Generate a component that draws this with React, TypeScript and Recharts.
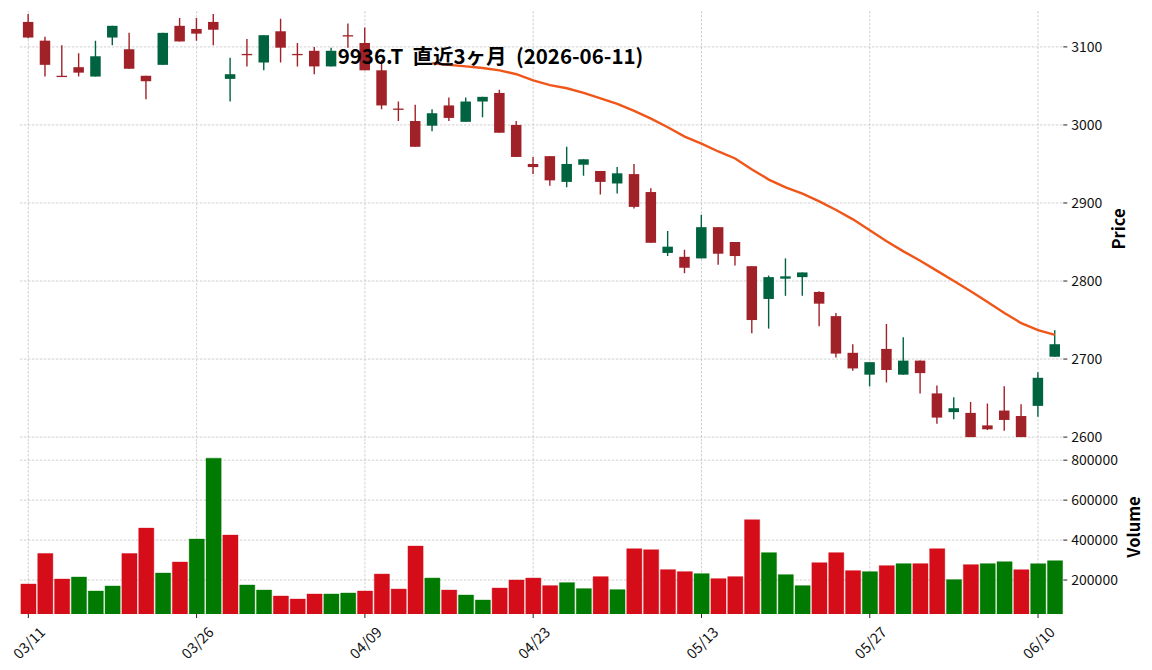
import { Bar, BarChart, CartesianGrid, Cell, ComposedChart, Line, XAxis, YAxis } from 'recharts';

// 9936.T daily candles, last 3 months
const dates = [
  '03/11', '03/12', '03/13', '03/16', '03/17', '03/18', '03/19', '03/23', '03/24', '03/25',
  '03/26', '03/27', '03/30', '03/31', '04/01', '04/02', '04/03', '04/06', '04/07', '04/08',
  '04/09', '04/10', '04/13', '04/14', '04/15', '04/16', '04/17', '04/20', '04/21', '04/22',
  '04/23', '04/24', '04/27', '04/28', '04/30', '05/01', '05/07', '05/08', '05/11', '05/12',
  '05/13', '05/14', '05/15', '05/18', '05/19', '05/20', '05/21', '05/22', '05/25', '05/26',
  '05/27', '05/28', '05/29', '06/01', '06/02', '06/03', '06/04', '06/05', '06/08', '06/09',
  '06/10', '06/11',
];
const opens = [
  3132, 3108, 3063, 3074, 3062, 3112, 3097, 3063, 3077, 3127,
  3123, 3132, 3059, 3091, 3080, 3120, 3091, 3095, 3075, 3115,
  3105, 3070, 3021, 3005, 2999, 3025, 3004, 3030, 3041, 3000,
  2950, 2960, 2927, 2949, 2941, 2925, 2937, 2914, 2836, 2831,
  2829, 2869, 2850, 2819, 2777, 2803, 2805, 2786, 2755, 2708,
  2680, 2713, 2680, 2698, 2656, 2632, 2631, 2615, 2634, 2627,
  2640, 2703,
];
const highs = [
  3142, 3113, 3102, 3092, 3108, 3127, 3118, 3063, 3118, 3137,
  3137, 3142, 3086, 3110, 3115, 3136, 3105, 3100, 3099, 3130,
  3125, 3083, 3030, 3026, 3020, 3035, 3035, 3036, 3045, 3005,
  2959, 2960, 2972, 2956, 2941, 2946, 2950, 2919, 2864, 2840,
  2885, 2869, 2850, 2819, 2807, 2829, 2811, 2787, 2759, 2719,
  2696, 2745, 2728, 2698, 2666, 2651, 2645, 2643, 2665, 2642,
  2683, 2737,
];
const lows = [
  3111, 3062, 3062, 3062, 3062, 3102, 3072, 3033, 3077, 3107,
  3108, 3102, 3030, 3075, 3070, 3080, 3075, 3065, 3075, 3099,
  3070, 3020, 3005, 2972, 2992, 3005, 3004, 3010, 2990, 2959,
  2937, 2922, 2920, 2935, 2911, 2912, 2893, 2849, 2832, 2810,
  2829, 2821, 2820, 2733, 2739, 2781, 2781, 2742, 2702, 2685,
  2665, 2670, 2680, 2656, 2617, 2623, 2600, 2609, 2608, 2600,
  2626, 2703,
];
const closes = [
  3112, 3077, 3062, 3067, 3088, 3127, 3072, 3056, 3118, 3107,
  3117, 3122, 3065, 3090, 3115, 3099, 3090, 3075, 3095, 3114,
  3070, 3025, 3020, 2972, 3015, 3009, 3030, 3036, 2990, 2959,
  2946, 2929, 2950, 2956, 2927, 2938, 2895, 2849, 2844, 2817,
  2869, 2835, 2832, 2750, 2805, 2806, 2811, 2771, 2707, 2688,
  2696, 2686, 2698, 2682, 2625, 2637, 2600, 2610, 2622, 2600,
  2676, 2719,
];
const volumes = [
  180000, 333000, 205000, 215000, 145000, 170000, 333000, 460000, 235000, 290000,
  405000, 810000, 425000, 175000, 150000, 120000, 105000, 130000, 130000, 135000,
  145000, 230000, 155000, 370000, 210000, 150000, 125000, 100000, 160000, 200000,
  210000, 172000, 187000, 157000, 217000, 152000, 357000, 352000, 252000, 242000,
  232000, 207000, 217000, 502000, 337000, 227000, 172000, 287000, 337000, 247000,
  242000, 272000, 282000, 282000, 357000, 202000, 277000, 282000, 292000, 252000,
  282000, 297000,
];
// 25-day moving average as drawn
const ma25 = [
  null, null, null, null, null, null, null, null, null, null,
  null, null, null, null, null, null, null, null, null, null,
  null, null, null, null, 3079, 3077, 3075, 3073, 3070, 3065,
  3057, 3051, 3047, 3041, 3034, 3027, 3018, 3008, 2997, 2985,
  2976, 2966, 2957, 2943, 2930, 2920, 2912, 2902, 2891, 2879,
  2865, 2851, 2838, 2826, 2813, 2800, 2787, 2773, 2759, 2746,
  2737, 2731,
];
const dateTicks = [0, 10, 20, 30, 40, 50, 60];
const priceTicks = [2600, 2700, 2800, 2900, 3000, 3100];
const volumeTicks = [200000, 400000, 600000, 800000];

const FONT = '"Noto Sans CJK JP", "Noto Sans", sans-serif';
const UP = '#006340';
const DOWN = '#a02128';
const VUP = '#007a00';
const VDOWN = '#d50d18';
const GRID = '#c4c4c4';

const rows = dates.map((d, i) => ({
  i,
  date: d,
  open: opens[i],
  high: highs[i],
  low: lows[i],
  close: closes[i],
  volume: volumes[i],
  ma: ma25[i],
}));

const Candle = (props: any) => {
  const { x, y, width, height, payload } = props;
  if (!payload) return null;
  const { open, close, high, low } = payload;
  const top = Math.min(y, y + height);
  const bot = Math.max(y, y + height);
  const k = high > low ? (bot - top) / (high - low) : 0;
  const yOf = (v: number) => top + (high - v) * k;
  const color = close > open ? UP : DOWN;
  const cx = x + width / 2;
  const bTop = yOf(Math.max(open, close));
  const bBot = yOf(Math.min(open, close));
  return (
    <g>
      <line x1={cx} x2={cx} y1={top} y2={bot} stroke={color} strokeWidth={1.4} />
      <rect x={x} y={bTop} width={width} height={Math.max(bBot - bTop, 1.3)} fill={color} />
    </g>
  );
};

const DateTick = (props: any) => {
  const { x, y, payload } = props;
  return (
    <text
      transform={`translate(${x},${y + 22}) rotate(-45)`}
      textAnchor="middle"
      dominantBaseline="central"
      fontSize={14.5}
      fontFamily={FONT}
      fill="#111"
    >
      {dates[payload.value]}
    </text>
  );
};

const yTick = { fill: '#111', fontSize: 14, fontFamily: FONT };
const margin = { top: 0, right: 28.7, bottom: 0, left: 19.9 };

export default function App() {
  return (
    <div style={{ position: 'absolute', left: 0, top: 0, width: 1152, height: 670, background: '#fff', overflow: 'hidden' }}>
      <div style={{ position: 'absolute', left: 0, top: 430 }}>
        <BarChart width={1152} height={240} data={rows} margin={{ ...margin, top: 12, bottom: 6 }}>
          <CartesianGrid stroke={GRID} strokeDasharray="2.5 1.5" strokeWidth={0.8} syncWithTicks />
          <XAxis
            type="number"
            dataKey="i"
            domain={[-0.5, 61.5]}
            ticks={dateTicks}
            interval={0}
            height={50}
            axisLine={false}
            tickLine={{ stroke: '#222' }}
            tickSize={4}
            tick={<DateTick />}
            allowDataOverflow
          />
          <YAxis
            orientation="right"
            domain={[30000, 891000]}
            ticks={volumeTicks}
            width={60}
            axisLine={false}
            tickLine={{ stroke: '#222' }}
            tickSize={4}
            tickMargin={4}
            tick={yTick}
            allowDataOverflow
          />
          <Bar dataKey="volume" barSize={16.83} isAnimationActive={false} activeBar={false}>
            {rows.map((r, k) => {
              const c = k > 0 && r.close > closes[k - 1] ? VUP : VDOWN;
              return <Cell key={k} fill={c} stroke={c} strokeWidth={0.4} />;
            })}
          </Bar>
        </BarChart>
      </div>
      <div style={{ position: 'absolute', left: 0, top: 0, zIndex: 1 }}>
        <ComposedChart width={1152} height={445} data={rows} margin={{ ...margin, top: 11, bottom: 4 }}>
          <CartesianGrid stroke={GRID} strokeDasharray="2.5 1.5" strokeWidth={0.8} syncWithTicks />
          <XAxis type="number" dataKey="i" domain={[-0.5, 61.5]} ticks={dateTicks} hide allowDataOverflow />
          <YAxis
            orientation="right"
            domain={[2595, 3146]}
            ticks={priceTicks}
            interval={0}
            width={60}
            axisLine={false}
            tickLine={{ stroke: '#222' }}
            tickSize={4}
            tickMargin={4}
            tick={yTick}
            allowDataOverflow
          />
          <Bar dataKey={(d: any) => [d.low, d.high]} shape={<Candle />} barSize={10.5} isAnimationActive={false} activeBar={false} />
          <Line dataKey="ma" stroke="#f0561a" strokeWidth={2.4} dot={false} activeDot={false} isAnimationActive={false} />
        </ComposedChart>
      </div>
      <div
        style={{
          position: 'absolute', left: 0, top: 41, width: 981, textAlign: 'center', zIndex: 2,
          fontFamily: FONT, fontWeight: 700, fontSize: 20.5, lineHeight: '28px', whiteSpace: 'pre', color: '#000',
        }}
      >
        {'9936.T  直近3ヶ月  (2026-06-11)'}
      </div>
      <div
        style={{
          position: 'absolute', left: 1118, top: 229, transform: 'translate(-50%, -50%) rotate(-90deg)',
          fontFamily: FONT, fontWeight: 700, fontSize: 16.5, whiteSpace: 'nowrap', color: '#000',
        }}
      >
        Price
      </div>
      <div
        style={{
          position: 'absolute', left: 1133, top: 527, transform: 'translate(-50%, -50%) rotate(-90deg)',
          fontFamily: FONT, fontWeight: 700, fontSize: 16.5, whiteSpace: 'nowrap', color: '#000',
        }}
      >
        Volume
      </div>
    </div>
  );
}
